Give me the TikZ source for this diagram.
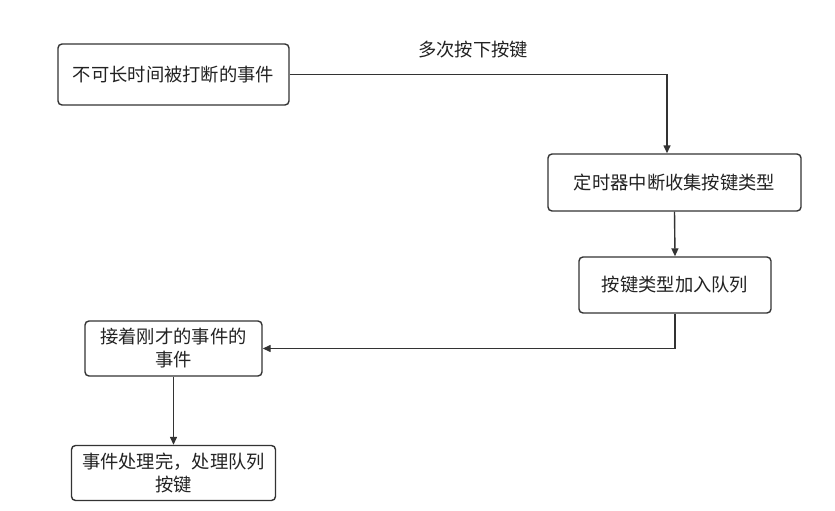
\documentclass[tikz,border=0pt]{standalone}
\usepackage{fontspec}
\usepackage{tikz}
\usetikzlibrary{arrows.meta, positioning}
\newfontfamily\cjk{Noto Sans CJK SC}
\definecolor{FlowLine}{RGB}{51,51,51}
\definecolor{FlowText}{RGB}{34,34,34}

\begin{document}
\begin{tikzpicture}[x=1pt, y=-1pt,
      box/.style={rectangle, draw=FlowLine, line width=1.4pt, rounded corners=4pt,
                  inner sep=0pt, align=center, text=FlowText,
                  font=\cjk\fontsize{18.3}{23}\selectfont},
      lbl/.style={font=\cjk\fontsize{18.3}{23}\selectfont, text=FlowText},
      flow/.style={draw=FlowLine, line width=1.4pt,
                   -{Triangle[length=8pt, width=7pt]}}
    ]
    \useasboundingbox (0,0) rectangle (835,511);

    % Events
    \node[box, minimum width=231pt, minimum height=61pt]
          (event) at (173.5, 74.5) {不可长时间被打断的事件};
    \node[box, minimum width=177pt, minimum height=55pt]
          (resume) at (173.5, 348.5) {接着刚才的事件的\\事件};
    \node[box, minimum width=204pt, minimum height=55pt]
          (done) at (173.5, 473) {事件处理完，处理队列\\按键};

    % Timer side
    \node[box, minimum width=253pt, minimum height=57pt]
          (timer) at (674.5, 182.5) {定时器中断收集按键类型};
    \node[box, minimum width=192pt, minimum height=56pt]
          (queue) at (675, 285) {按键类型加入队列};

    % Key presses
    \node[lbl] (press) at (473, 50) {多次按下按键};
    \coordinate (bend) at (667, 74.5);

    \draw[flow] (event.east) -- (bend) -- (bend |- timer.north);
    \draw[flow] (timer.south) -- (queue.north);
    \draw[flow] (queue.south) |- (resume.east);
    \draw[flow] (resume.south) -- (done.north);
  \end{tikzpicture}
\end{document}
